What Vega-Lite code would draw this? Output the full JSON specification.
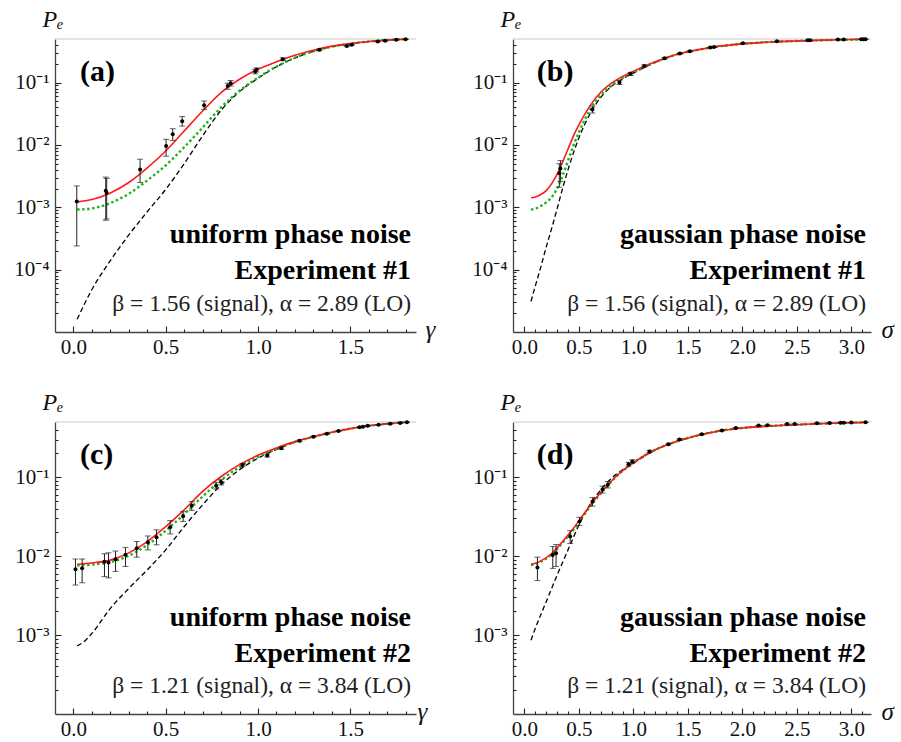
{
"$schema": "https://vega.github.io/schema/vega-lite/v6.json",
"padding": {"left": 13, "top": 7, "right": 2, "bottom": 2},
"spacing": {"row": 90, "column": 97},
"bounds": "flush",
"columns": 2,
"config": {
  "view": {"stroke": null},
  "font": "Liberation Serif",
  "axis": {"domainColor": "#444444", "domainWidth": 1.3, "tickColor": "#222222", "tickWidth": 1.1, "labelColor": "#111111", "labelFont": "Liberation Serif", "labelFontSize": 21, "titleFont": "Liberation Serif", "titleFontStyle": "italic", "titleFontWeight": "normal", "titleColor": "#111111", "grid": false, "labelOverlap": false, "labelFlush": false}
},
"datasets": {
  "notes": [
    {"panel": "a", "tag": "(a)", "noise": "uniform phase noise", "exp": "Experiment #1", "params": "β = 1.56 (signal), α = 2.89 (LO)"},
    {"panel": "b", "tag": "(b)", "noise": "gaussian phase noise", "exp": "Experiment #1", "params": "β = 1.56 (signal), α = 2.89 (LO)"},
    {"panel": "c", "tag": "(c)", "noise": "uniform phase noise", "exp": "Experiment #2", "params": "β = 1.21 (signal), α = 3.84 (LO)"},
    {"panel": "d", "tag": "(d)", "noise": "gaussian phase noise", "exp": "Experiment #2", "params": "β = 1.21 (signal), α = 3.84 (LO)"}
  ],
  "pts": [
    {"panel": "a", "x": 0.018, "p": 0.00124, "lo": 0.00024, "hi": 0.0022},
    {"panel": "a", "x": 0.175, "p": 0.00185, "lo": 0.00062, "hi": 0.00305},
    {"panel": "a", "x": 0.18, "p": 0.0017, "lo": 0.00065, "hi": 0.0029},
    {"panel": "a", "x": 0.361, "p": 0.00405, "lo": 0.0025, "hi": 0.0059},
    {"panel": "a", "x": 0.502, "p": 0.0096, "lo": 0.0066, "hi": 0.0123},
    {"panel": "a", "x": 0.538, "p": 0.0148, "lo": 0.0118, "hi": 0.0182},
    {"panel": "a", "x": 0.589, "p": 0.0239, "lo": 0.02, "hi": 0.0285},
    {"panel": "a", "x": 0.708, "p": 0.0433, "lo": 0.0373, "hi": 0.0507},
    {"panel": "a", "x": 0.836, "p": 0.088, "lo": 0.078, "hi": 0.098},
    {"panel": "a", "x": 0.852, "p": 0.098, "lo": 0.088, "hi": 0.108},
    {"panel": "a", "x": 0.985, "p": 0.15, "lo": 0.138, "hi": 0.163},
    {"panel": "a", "x": 0.992, "p": 0.16, "lo": 0.148, "hi": 0.172},
    {"panel": "a", "x": 1.134, "p": 0.237, "lo": 0.225, "hi": 0.249},
    {"panel": "a", "x": 1.333, "p": 0.335, "lo": 0.325, "hi": 0.345},
    {"panel": "a", "x": 1.481, "p": 0.385, "lo": 0.377, "hi": 0.393},
    {"panel": "a", "x": 1.508, "p": 0.405, "lo": 0.397, "hi": 0.413},
    {"panel": "a", "x": 1.649, "p": 0.455, "lo": 0.448, "hi": 0.462},
    {"panel": "a", "x": 1.689, "p": 0.468, "lo": 0.461, "hi": 0.475},
    {"panel": "a", "x": 1.749, "p": 0.485, "lo": 0.479, "hi": 0.491},
    {"panel": "a", "x": 1.8, "p": 0.495, "lo": 0.49, "hi": 0.5},
    {"panel": "b", "x": 0.32, "p": 0.0035, "lo": 0.0021, "hi": 0.005},
    {"panel": "b", "x": 0.33, "p": 0.0042, "lo": 0.0026, "hi": 0.0056},
    {"panel": "b", "x": 0.624, "p": 0.037, "lo": 0.0325, "hi": 0.042},
    {"panel": "b", "x": 0.872, "p": 0.1, "lo": 0.093, "hi": 0.107},
    {"panel": "b", "x": 0.973, "p": 0.138, "lo": 0.13, "hi": 0.146},
    {"panel": "b", "x": 1.099, "p": 0.185, "lo": 0.178, "hi": 0.192},
    {"panel": "b", "x": 1.286, "p": 0.245, "lo": 0.238, "hi": 0.252},
    {"panel": "b", "x": 1.426, "p": 0.292, "lo": 0.286, "hi": 0.298},
    {"panel": "b", "x": 1.518, "p": 0.318, "lo": 0.312, "hi": 0.324},
    {"panel": "b", "x": 1.705, "p": 0.365, "lo": 0.36, "hi": 0.37},
    {"panel": "b", "x": 1.74, "p": 0.372, "lo": 0.367, "hi": 0.377},
    {"panel": "b", "x": 2.005, "p": 0.428, "lo": 0.423, "hi": 0.433},
    {"panel": "b", "x": 2.317, "p": 0.46, "lo": 0.456, "hi": 0.464},
    {"panel": "b", "x": 2.6, "p": 0.478, "lo": 0.474, "hi": 0.482},
    {"panel": "b", "x": 2.62, "p": 0.479, "lo": 0.475, "hi": 0.483},
    {"panel": "b", "x": 2.877, "p": 0.49, "lo": 0.486, "hi": 0.494},
    {"panel": "b", "x": 2.93, "p": 0.491, "lo": 0.487, "hi": 0.495},
    {"panel": "b", "x": 3.09, "p": 0.495, "lo": 0.491, "hi": 0.499},
    {"panel": "b", "x": 3.11, "p": 0.496, "lo": 0.492, "hi": 0.5},
    {"panel": "b", "x": 3.13, "p": 0.496, "lo": 0.492, "hi": 0.5},
    {"panel": "c", "x": 0.011, "p": 0.0068, "lo": 0.0043, "hi": 0.0092},
    {"panel": "c", "x": 0.047, "p": 0.007, "lo": 0.0046, "hi": 0.0092},
    {"panel": "c", "x": 0.168, "p": 0.0085, "lo": 0.0055, "hi": 0.0107},
    {"panel": "c", "x": 0.19, "p": 0.0083, "lo": 0.0053, "hi": 0.011},
    {"panel": "c", "x": 0.228, "p": 0.0091, "lo": 0.0064, "hi": 0.0116},
    {"panel": "c", "x": 0.282, "p": 0.0104, "lo": 0.0074, "hi": 0.0129},
    {"panel": "c", "x": 0.343, "p": 0.0126, "lo": 0.0097, "hi": 0.0153},
    {"panel": "c", "x": 0.403, "p": 0.015, "lo": 0.012, "hi": 0.018},
    {"panel": "c", "x": 0.45, "p": 0.0174, "lo": 0.0139, "hi": 0.0215},
    {"panel": "c", "x": 0.524, "p": 0.0232, "lo": 0.0191, "hi": 0.0282},
    {"panel": "c", "x": 0.594, "p": 0.032, "lo": 0.0275, "hi": 0.0365},
    {"panel": "c", "x": 0.641, "p": 0.0433, "lo": 0.038, "hi": 0.049},
    {"panel": "c", "x": 0.773, "p": 0.078, "lo": 0.071, "hi": 0.086},
    {"panel": "c", "x": 0.8, "p": 0.087, "lo": 0.08, "hi": 0.094},
    {"panel": "c", "x": 0.916, "p": 0.143, "lo": 0.135, "hi": 0.15},
    {"panel": "c", "x": 1.05, "p": 0.188, "lo": 0.18, "hi": 0.196},
    {"panel": "c", "x": 1.126, "p": 0.233, "lo": 0.225, "hi": 0.241},
    {"panel": "c", "x": 1.225, "p": 0.289, "lo": 0.282, "hi": 0.296},
    {"panel": "c", "x": 1.3, "p": 0.325, "lo": 0.318, "hi": 0.332},
    {"panel": "c", "x": 1.373, "p": 0.355, "lo": 0.349, "hi": 0.361},
    {"panel": "c", "x": 1.436, "p": 0.384, "lo": 0.378, "hi": 0.39},
    {"panel": "c", "x": 1.55, "p": 0.43, "lo": 0.425, "hi": 0.435},
    {"panel": "c", "x": 1.568, "p": 0.435, "lo": 0.43, "hi": 0.44},
    {"panel": "c", "x": 1.594, "p": 0.448, "lo": 0.443, "hi": 0.453},
    {"panel": "c", "x": 1.653, "p": 0.46, "lo": 0.455, "hi": 0.465},
    {"panel": "c", "x": 1.716, "p": 0.475, "lo": 0.471, "hi": 0.479},
    {"panel": "c", "x": 1.77, "p": 0.487, "lo": 0.483, "hi": 0.491},
    {"panel": "c", "x": 1.807, "p": 0.497, "lo": 0.493, "hi": 0.5},
    {"panel": "d", "x": 0.119, "p": 0.0072, "lo": 0.0049, "hi": 0.0097},
    {"panel": "d", "x": 0.26, "p": 0.0103, "lo": 0.007, "hi": 0.0132},
    {"panel": "d", "x": 0.29, "p": 0.0109, "lo": 0.0074, "hi": 0.014},
    {"panel": "d", "x": 0.42, "p": 0.0177, "lo": 0.0145, "hi": 0.021},
    {"panel": "d", "x": 0.505, "p": 0.0275, "lo": 0.0245, "hi": 0.031},
    {"panel": "d", "x": 0.624, "p": 0.049, "lo": 0.043, "hi": 0.055},
    {"panel": "d", "x": 0.716, "p": 0.0698, "lo": 0.063, "hi": 0.077},
    {"panel": "d", "x": 0.765, "p": 0.08, "lo": 0.073, "hi": 0.088},
    {"panel": "d", "x": 0.955, "p": 0.146, "lo": 0.138, "hi": 0.154},
    {"panel": "d", "x": 0.99, "p": 0.158, "lo": 0.15, "hi": 0.166},
    {"panel": "d", "x": 1.148, "p": 0.212, "lo": 0.205, "hi": 0.219},
    {"panel": "d", "x": 1.322, "p": 0.262, "lo": 0.256, "hi": 0.268},
    {"panel": "d", "x": 1.423, "p": 0.3, "lo": 0.294, "hi": 0.306},
    {"panel": "d", "x": 1.628, "p": 0.35, "lo": 0.345, "hi": 0.355},
    {"panel": "d", "x": 1.812, "p": 0.39, "lo": 0.385, "hi": 0.395},
    {"panel": "d", "x": 1.94, "p": 0.42, "lo": 0.415, "hi": 0.425},
    {"panel": "d", "x": 2.149, "p": 0.45, "lo": 0.446, "hi": 0.454},
    {"panel": "d", "x": 2.23, "p": 0.455, "lo": 0.451, "hi": 0.459},
    {"panel": "d", "x": 2.41, "p": 0.47, "lo": 0.466, "hi": 0.474},
    {"panel": "d", "x": 2.48, "p": 0.472, "lo": 0.468, "hi": 0.476},
    {"panel": "d", "x": 2.684, "p": 0.482, "lo": 0.478, "hi": 0.486},
    {"panel": "d", "x": 2.8, "p": 0.486, "lo": 0.482, "hi": 0.49},
    {"panel": "d", "x": 2.9, "p": 0.49, "lo": 0.486, "hi": 0.494},
    {"panel": "d", "x": 2.93, "p": 0.49, "lo": 0.486, "hi": 0.494},
    {"panel": "d", "x": 3.0, "p": 0.492, "lo": 0.488, "hi": 0.496},
    {"panel": "d", "x": 3.13, "p": 0.495, "lo": 0.491, "hi": 0.499}
  ],
  "curves": [
    {"panel": "a", "s": "fit", "x": 0.02, "p": 0.00122}, {"panel": "a", "s": "fit", "x": 0.1, "p": 0.00133}, {"panel": "a", "s": "fit", "x": 0.2, "p": 0.0017}, {"panel": "a", "s": "fit", "x": 0.3, "p": 0.0025}, {"panel": "a", "s": "fit", "x": 0.4, "p": 0.0043}, {"panel": "a", "s": "fit", "x": 0.5, "p": 0.008}, {"panel": "a", "s": "fit", "x": 0.6, "p": 0.0167}, {"panel": "a", "s": "fit", "x": 0.7, "p": 0.035}, {"panel": "a", "s": "fit", "x": 0.8, "p": 0.069}, {"panel": "a", "s": "fit", "x": 0.9, "p": 0.113}, {"panel": "a", "s": "fit", "x": 1.0, "p": 0.164}, {"panel": "a", "s": "fit", "x": 1.1, "p": 0.215}, {"panel": "a", "s": "fit", "x": 1.2, "p": 0.275}, {"panel": "a", "s": "fit", "x": 1.3, "p": 0.331}, {"panel": "a", "s": "fit", "x": 1.4, "p": 0.384}, {"panel": "a", "s": "fit", "x": 1.5, "p": 0.424}, {"panel": "a", "s": "fit", "x": 1.6, "p": 0.457}, {"panel": "a", "s": "fit", "x": 1.7, "p": 0.482}, {"panel": "a", "s": "fit", "x": 1.8, "p": 0.497},
    {"panel": "a", "s": "model", "x": 0.02, "p": 0.00092}, {"panel": "a", "s": "model", "x": 0.1, "p": 0.00096}, {"panel": "a", "s": "model", "x": 0.2, "p": 0.00117}, {"panel": "a", "s": "model", "x": 0.3, "p": 0.00165}, {"panel": "a", "s": "model", "x": 0.4, "p": 0.0027}, {"panel": "a", "s": "model", "x": 0.5, "p": 0.0047}, {"panel": "a", "s": "model", "x": 0.6, "p": 0.0092}, {"panel": "a", "s": "model", "x": 0.7, "p": 0.019}, {"panel": "a", "s": "model", "x": 0.8, "p": 0.04}, {"panel": "a", "s": "model", "x": 0.9, "p": 0.074}, {"panel": "a", "s": "model", "x": 1.0, "p": 0.12}, {"panel": "a", "s": "model", "x": 1.1, "p": 0.18}, {"panel": "a", "s": "model", "x": 1.2, "p": 0.25}, {"panel": "a", "s": "model", "x": 1.3, "p": 0.318}, {"panel": "a", "s": "model", "x": 1.4, "p": 0.377}, {"panel": "a", "s": "model", "x": 1.5, "p": 0.42}, {"panel": "a", "s": "model", "x": 1.6, "p": 0.455}, {"panel": "a", "s": "model", "x": 1.7, "p": 0.481}, {"panel": "a", "s": "model", "x": 1.8, "p": 0.497},
    {"panel": "a", "s": "ideal", "x": 0.02, "p": 0.000016}, {"panel": "a", "s": "ideal", "x": 0.1, "p": 0.000048}, {"panel": "a", "s": "ideal", "x": 0.2, "p": 0.00014}, {"panel": "a", "s": "ideal", "x": 0.3, "p": 0.00036}, {"panel": "a", "s": "ideal", "x": 0.4, "p": 0.00085}, {"panel": "a", "s": "ideal", "x": 0.5, "p": 0.00194}, {"panel": "a", "s": "ideal", "x": 0.6, "p": 0.005}, {"panel": "a", "s": "ideal", "x": 0.7, "p": 0.014}, {"panel": "a", "s": "ideal", "x": 0.8, "p": 0.036}, {"panel": "a", "s": "ideal", "x": 0.9, "p": 0.072}, {"panel": "a", "s": "ideal", "x": 1.0, "p": 0.117}, {"panel": "a", "s": "ideal", "x": 1.1, "p": 0.18}, {"panel": "a", "s": "ideal", "x": 1.2, "p": 0.248}, {"panel": "a", "s": "ideal", "x": 1.3, "p": 0.316}, {"panel": "a", "s": "ideal", "x": 1.4, "p": 0.376}, {"panel": "a", "s": "ideal", "x": 1.5, "p": 0.42}, {"panel": "a", "s": "ideal", "x": 1.6, "p": 0.455}, {"panel": "a", "s": "ideal", "x": 1.7, "p": 0.481}, {"panel": "a", "s": "ideal", "x": 1.8, "p": 0.497},
    {"panel": "b", "s": "fit", "x": 0.06, "p": 0.00142}, {"panel": "b", "s": "fit", "x": 0.1, "p": 0.00146}, {"panel": "b", "s": "fit", "x": 0.15, "p": 0.0016}, {"panel": "b", "s": "fit", "x": 0.2, "p": 0.00185}, {"panel": "b", "s": "fit", "x": 0.25, "p": 0.0024}, {"panel": "b", "s": "fit", "x": 0.3, "p": 0.0034}, {"panel": "b", "s": "fit", "x": 0.35, "p": 0.0053}, {"panel": "b", "s": "fit", "x": 0.4, "p": 0.0086}, {"panel": "b", "s": "fit", "x": 0.45, "p": 0.014}, {"panel": "b", "s": "fit", "x": 0.5, "p": 0.021}, {"panel": "b", "s": "fit", "x": 0.6, "p": 0.042}, {"panel": "b", "s": "fit", "x": 0.7, "p": 0.07}, {"panel": "b", "s": "fit", "x": 0.8, "p": 0.098}, {"panel": "b", "s": "fit", "x": 0.9, "p": 0.125}, {"panel": "b", "s": "fit", "x": 1.0, "p": 0.152}, {"panel": "b", "s": "fit", "x": 1.2, "p": 0.215}, {"panel": "b", "s": "fit", "x": 1.4, "p": 0.285}, {"panel": "b", "s": "fit", "x": 1.6, "p": 0.338}, {"panel": "b", "s": "fit", "x": 1.8, "p": 0.385}, {"panel": "b", "s": "fit", "x": 2.0, "p": 0.418}, {"panel": "b", "s": "fit", "x": 2.25, "p": 0.447}, {"panel": "b", "s": "fit", "x": 2.5, "p": 0.465}, {"panel": "b", "s": "fit", "x": 2.75, "p": 0.479}, {"panel": "b", "s": "fit", "x": 3.0, "p": 0.49}, {"panel": "b", "s": "fit", "x": 3.14, "p": 0.495},
    {"panel": "b", "s": "model", "x": 0.06, "p": 0.00092}, {"panel": "b", "s": "model", "x": 0.1, "p": 0.00095}, {"panel": "b", "s": "model", "x": 0.15, "p": 0.00105}, {"panel": "b", "s": "model", "x": 0.2, "p": 0.0012}, {"panel": "b", "s": "model", "x": 0.25, "p": 0.00145}, {"panel": "b", "s": "model", "x": 0.3, "p": 0.002}, {"panel": "b", "s": "model", "x": 0.35, "p": 0.0032}, {"panel": "b", "s": "model", "x": 0.4, "p": 0.0056}, {"panel": "b", "s": "model", "x": 0.45, "p": 0.0098}, {"panel": "b", "s": "model", "x": 0.5, "p": 0.016}, {"panel": "b", "s": "model", "x": 0.6, "p": 0.036}, {"panel": "b", "s": "model", "x": 0.7, "p": 0.063}, {"panel": "b", "s": "model", "x": 0.8, "p": 0.09}, {"panel": "b", "s": "model", "x": 0.9, "p": 0.118}, {"panel": "b", "s": "model", "x": 1.0, "p": 0.145}, {"panel": "b", "s": "model", "x": 1.2, "p": 0.212}, {"panel": "b", "s": "model", "x": 1.4, "p": 0.283}, {"panel": "b", "s": "model", "x": 1.6, "p": 0.337}, {"panel": "b", "s": "model", "x": 1.8, "p": 0.384}, {"panel": "b", "s": "model", "x": 2.0, "p": 0.418}, {"panel": "b", "s": "model", "x": 2.25, "p": 0.447}, {"panel": "b", "s": "model", "x": 2.5, "p": 0.465}, {"panel": "b", "s": "model", "x": 2.75, "p": 0.479}, {"panel": "b", "s": "model", "x": 3.0, "p": 0.49}, {"panel": "b", "s": "model", "x": 3.14, "p": 0.495},
    {"panel": "b", "s": "ideal", "x": 0.06, "p": 0.000031}, {"panel": "b", "s": "ideal", "x": 0.1, "p": 0.000055}, {"panel": "b", "s": "ideal", "x": 0.15, "p": 0.00011}, {"panel": "b", "s": "ideal", "x": 0.2, "p": 0.00023}, {"panel": "b", "s": "ideal", "x": 0.25, "p": 0.00046}, {"panel": "b", "s": "ideal", "x": 0.3, "p": 0.00095}, {"panel": "b", "s": "ideal", "x": 0.35, "p": 0.002}, {"panel": "b", "s": "ideal", "x": 0.4, "p": 0.004}, {"panel": "b", "s": "ideal", "x": 0.45, "p": 0.0075}, {"panel": "b", "s": "ideal", "x": 0.5, "p": 0.013}, {"panel": "b", "s": "ideal", "x": 0.6, "p": 0.031}, {"panel": "b", "s": "ideal", "x": 0.7, "p": 0.058}, {"panel": "b", "s": "ideal", "x": 0.8, "p": 0.087}, {"panel": "b", "s": "ideal", "x": 0.9, "p": 0.115}, {"panel": "b", "s": "ideal", "x": 1.0, "p": 0.142}, {"panel": "b", "s": "ideal", "x": 1.2, "p": 0.211}, {"panel": "b", "s": "ideal", "x": 1.4, "p": 0.283}, {"panel": "b", "s": "ideal", "x": 1.6, "p": 0.337}, {"panel": "b", "s": "ideal", "x": 1.8, "p": 0.384}, {"panel": "b", "s": "ideal", "x": 2.0, "p": 0.418}, {"panel": "b", "s": "ideal", "x": 2.25, "p": 0.447}, {"panel": "b", "s": "ideal", "x": 2.5, "p": 0.465}, {"panel": "b", "s": "ideal", "x": 2.75, "p": 0.479}, {"panel": "b", "s": "ideal", "x": 3.0, "p": 0.49}, {"panel": "b", "s": "ideal", "x": 3.14, "p": 0.495},
    {"panel": "c", "s": "fit", "x": 0.02, "p": 0.0079}, {"panel": "c", "s": "fit", "x": 0.1, "p": 0.0082}, {"panel": "c", "s": "fit", "x": 0.2, "p": 0.0089}, {"panel": "c", "s": "fit", "x": 0.3, "p": 0.011}, {"panel": "c", "s": "fit", "x": 0.4, "p": 0.0153}, {"panel": "c", "s": "fit", "x": 0.5, "p": 0.0237}, {"panel": "c", "s": "fit", "x": 0.6, "p": 0.0385}, {"panel": "c", "s": "fit", "x": 0.7, "p": 0.066}, {"panel": "c", "s": "fit", "x": 0.8, "p": 0.102}, {"panel": "c", "s": "fit", "x": 0.9, "p": 0.144}, {"panel": "c", "s": "fit", "x": 1.0, "p": 0.19}, {"panel": "c", "s": "fit", "x": 1.1, "p": 0.234}, {"panel": "c", "s": "fit", "x": 1.2, "p": 0.282}, {"panel": "c", "s": "fit", "x": 1.3, "p": 0.326}, {"panel": "c", "s": "fit", "x": 1.4, "p": 0.37}, {"panel": "c", "s": "fit", "x": 1.5, "p": 0.412}, {"panel": "c", "s": "fit", "x": 1.6, "p": 0.448}, {"panel": "c", "s": "fit", "x": 1.7, "p": 0.475}, {"panel": "c", "s": "fit", "x": 1.8, "p": 0.497},
    {"panel": "c", "s": "model", "x": 0.02, "p": 0.0076}, {"panel": "c", "s": "model", "x": 0.1, "p": 0.0078}, {"panel": "c", "s": "model", "x": 0.2, "p": 0.0084}, {"panel": "c", "s": "model", "x": 0.3, "p": 0.0101}, {"panel": "c", "s": "model", "x": 0.4, "p": 0.0139}, {"panel": "c", "s": "model", "x": 0.5, "p": 0.021}, {"panel": "c", "s": "model", "x": 0.6, "p": 0.034}, {"panel": "c", "s": "model", "x": 0.7, "p": 0.057}, {"panel": "c", "s": "model", "x": 0.8, "p": 0.092}, {"panel": "c", "s": "model", "x": 0.9, "p": 0.134}, {"panel": "c", "s": "model", "x": 1.0, "p": 0.181}, {"panel": "c", "s": "model", "x": 1.1, "p": 0.229}, {"panel": "c", "s": "model", "x": 1.2, "p": 0.28}, {"panel": "c", "s": "model", "x": 1.3, "p": 0.325}, {"panel": "c", "s": "model", "x": 1.4, "p": 0.37}, {"panel": "c", "s": "model", "x": 1.5, "p": 0.412}, {"panel": "c", "s": "model", "x": 1.6, "p": 0.448}, {"panel": "c", "s": "model", "x": 1.7, "p": 0.475}, {"panel": "c", "s": "model", "x": 1.8, "p": 0.497},
    {"panel": "c", "s": "ideal", "x": 0.02, "p": 0.00073}, {"panel": "c", "s": "ideal", "x": 0.05, "p": 0.0008}, {"panel": "c", "s": "ideal", "x": 0.1, "p": 0.00105}, {"panel": "c", "s": "ideal", "x": 0.2, "p": 0.00218}, {"panel": "c", "s": "ideal", "x": 0.3, "p": 0.0039}, {"panel": "c", "s": "ideal", "x": 0.4, "p": 0.0067}, {"panel": "c", "s": "ideal", "x": 0.5, "p": 0.012}, {"panel": "c", "s": "ideal", "x": 0.6, "p": 0.0237}, {"panel": "c", "s": "ideal", "x": 0.7, "p": 0.0446}, {"panel": "c", "s": "ideal", "x": 0.8, "p": 0.08}, {"panel": "c", "s": "ideal", "x": 0.9, "p": 0.124}, {"panel": "c", "s": "ideal", "x": 1.0, "p": 0.174}, {"panel": "c", "s": "ideal", "x": 1.1, "p": 0.225}, {"panel": "c", "s": "ideal", "x": 1.2, "p": 0.278}, {"panel": "c", "s": "ideal", "x": 1.3, "p": 0.324}, {"panel": "c", "s": "ideal", "x": 1.4, "p": 0.37}, {"panel": "c", "s": "ideal", "x": 1.5, "p": 0.412}, {"panel": "c", "s": "ideal", "x": 1.6, "p": 0.448}, {"panel": "c", "s": "ideal", "x": 1.7, "p": 0.475}, {"panel": "c", "s": "ideal", "x": 1.8, "p": 0.497},
    {"panel": "d", "s": "fit", "x": 0.06, "p": 0.0079}, {"panel": "d", "s": "fit", "x": 0.1, "p": 0.0081}, {"panel": "d", "s": "fit", "x": 0.15, "p": 0.0087}, {"panel": "d", "s": "fit", "x": 0.25, "p": 0.0108}, {"panel": "d", "s": "fit", "x": 0.35, "p": 0.0153}, {"panel": "d", "s": "fit", "x": 0.45, "p": 0.0225}, {"panel": "d", "s": "fit", "x": 0.55, "p": 0.035}, {"panel": "d", "s": "fit", "x": 0.65, "p": 0.053}, {"panel": "d", "s": "fit", "x": 0.75, "p": 0.076}, {"panel": "d", "s": "fit", "x": 0.85, "p": 0.105}, {"panel": "d", "s": "fit", "x": 1.0, "p": 0.153}, {"panel": "d", "s": "fit", "x": 1.2, "p": 0.222}, {"panel": "d", "s": "fit", "x": 1.4, "p": 0.285}, {"panel": "d", "s": "fit", "x": 1.6, "p": 0.34}, {"panel": "d", "s": "fit", "x": 1.8, "p": 0.388}, {"panel": "d", "s": "fit", "x": 2.0, "p": 0.42}, {"panel": "d", "s": "fit", "x": 2.25, "p": 0.445}, {"panel": "d", "s": "fit", "x": 2.5, "p": 0.462}, {"panel": "d", "s": "fit", "x": 2.75, "p": 0.478}, {"panel": "d", "s": "fit", "x": 3.0, "p": 0.49}, {"panel": "d", "s": "fit", "x": 3.14, "p": 0.495},
    {"panel": "d", "s": "model", "x": 0.06, "p": 0.0077}, {"panel": "d", "s": "model", "x": 0.1, "p": 0.0079}, {"panel": "d", "s": "model", "x": 0.15, "p": 0.0085}, {"panel": "d", "s": "model", "x": 0.25, "p": 0.0105}, {"panel": "d", "s": "model", "x": 0.35, "p": 0.0148}, {"panel": "d", "s": "model", "x": 0.45, "p": 0.0216}, {"panel": "d", "s": "model", "x": 0.55, "p": 0.0338}, {"panel": "d", "s": "model", "x": 0.65, "p": 0.0515}, {"panel": "d", "s": "model", "x": 0.75, "p": 0.0745}, {"panel": "d", "s": "model", "x": 0.85, "p": 0.104}, {"panel": "d", "s": "model", "x": 1.0, "p": 0.152}, {"panel": "d", "s": "model", "x": 1.2, "p": 0.222}, {"panel": "d", "s": "model", "x": 1.4, "p": 0.285}, {"panel": "d", "s": "model", "x": 1.6, "p": 0.34}, {"panel": "d", "s": "model", "x": 1.8, "p": 0.388}, {"panel": "d", "s": "model", "x": 2.0, "p": 0.42}, {"panel": "d", "s": "model", "x": 2.25, "p": 0.445}, {"panel": "d", "s": "model", "x": 2.5, "p": 0.462}, {"panel": "d", "s": "model", "x": 2.75, "p": 0.478}, {"panel": "d", "s": "model", "x": 3.0, "p": 0.49}, {"panel": "d", "s": "model", "x": 3.14, "p": 0.495},
    {"panel": "d", "s": "ideal", "x": 0.06, "p": 0.00086}, {"panel": "d", "s": "ideal", "x": 0.1, "p": 0.00122}, {"panel": "d", "s": "ideal", "x": 0.2, "p": 0.00265}, {"panel": "d", "s": "ideal", "x": 0.3, "p": 0.00576}, {"panel": "d", "s": "ideal", "x": 0.4, "p": 0.012}, {"panel": "d", "s": "ideal", "x": 0.5, "p": 0.0248}, {"panel": "d", "s": "ideal", "x": 0.6, "p": 0.0446}, {"panel": "d", "s": "ideal", "x": 0.7, "p": 0.069}, {"panel": "d", "s": "ideal", "x": 0.8, "p": 0.097}, {"panel": "d", "s": "ideal", "x": 1.0, "p": 0.15}, {"panel": "d", "s": "ideal", "x": 1.2, "p": 0.221}, {"panel": "d", "s": "ideal", "x": 1.4, "p": 0.285}, {"panel": "d", "s": "ideal", "x": 1.6, "p": 0.34}, {"panel": "d", "s": "ideal", "x": 1.8, "p": 0.388}, {"panel": "d", "s": "ideal", "x": 2.0, "p": 0.42}, {"panel": "d", "s": "ideal", "x": 2.25, "p": 0.445}, {"panel": "d", "s": "ideal", "x": 2.5, "p": 0.462}, {"panel": "d", "s": "ideal", "x": 2.75, "p": 0.478}, {"panel": "d", "s": "ideal", "x": 3.0, "p": 0.49}, {"panel": "d", "s": "ideal", "x": 3.14, "p": 0.495}
  ]
},
"concat": [
  {"width": 361, "height": 293,
   "resolve": {"axis": {"x": "independent", "y": "independent"}},
   "layer": [
    {"data": {"name": "notes"}, "transform": [{"filter": "datum.panel=='a'"}], "mark": {"type": "rule", "color": "#cccccc", "strokeWidth": 1.2}, "encoding": {"y": {"datum": 0.5, "type": "quantitative", "axis": null}}},
    {"data": {"name": "curves"}, "transform": [{"filter": "datum.panel=='a' && datum.s=='ideal'"}], "mark": {"type": "line", "color": "#000000", "strokeWidth": 1.3, "strokeDash": [5, 3], "interpolate": "monotone"},
     "encoding": {
      "x": {"field": "x", "type": "quantitative", "title": "γ", "scale": {"domain": [-0.1, 1.856], "nice": false, "zero": false},
            "axis": {"orient": "bottom", "values": [0, 0.5, 1, 1.5], "format": ".1f", "tickSize": -6, "labelPadding": 10, "titleAngle": 0, "titleAlign": "left", "titleBaseline": "alphabetic", "titleX": 370, "titleY": 5, "titleFontSize": 25}},
      "y": {"field": "p", "type": "quantitative", "title": "Pₑ", "scale": {"type": "log", "domain": [0.00001, 0.5], "nice": false},
            "axis": {"orient": "left", "values": [0.0001, 0.001, 0.01, 0.1], "labelExpr": "datum.value == 0.1 ? '10⁻¹' : datum.value == 0.01 ? '10⁻²' : datum.value == 0.001 ? '10⁻³' : '10⁻⁴'", "tickSize": -6, "labelPadding": 12, "titleAngle": 0, "titleAlign": "left", "titleBaseline": "alphabetic", "titleX": -13, "titleY": -13, "titleFontSize": 24}}}},
    {"data": {"name": "curves"}, "transform": [{"filter": "datum.panel=='a' && datum.s=='model'"}], "mark": {"type": "line", "color": "#1db51d", "strokeWidth": 2.4, "strokeDash": [2.5, 2.5], "interpolate": "monotone"},
     "encoding": {"x": {"field": "x", "type": "quantitative", "title": null, "axis": {"orient": "bottom", "values": [0.1, 0.2, 0.3, 0.4, 0.6, 0.7, 0.8, 0.9, 1.1, 1.2, 1.3, 1.4, 1.6, 1.7, 1.8], "labels": false, "domain": false, "tickSize": -3, "title": null}},
                  "y": {"field": "p", "type": "quantitative", "title": null, "axis": {"orient": "left", "values": [0.00002, 0.00003, 0.00004, 0.00005, 0.00006, 0.00007, 0.00008, 0.00009, 0.0002, 0.0003, 0.0004, 0.0005, 0.0006, 0.0007, 0.0008, 0.0009, 0.002, 0.003, 0.004, 0.005, 0.006, 0.007, 0.008, 0.009, 0.02, 0.03, 0.04, 0.05, 0.06, 0.07, 0.08, 0.09, 0.2, 0.3, 0.4], "labels": false, "domain": false, "tickSize": -3, "title": null}}}},
    {"data": {"name": "curves"}, "transform": [{"filter": "datum.panel=='a' && datum.s=='fit'"}], "mark": {"type": "line", "color": "#ff1a1a", "strokeWidth": 1.6, "interpolate": "monotone"},
     "encoding": {"x": {"field": "x", "type": "quantitative", "axis": null}, "y": {"field": "p", "type": "quantitative", "axis": null}}},
    {"data": {"name": "pts"}, "transform": [{"filter": "datum.panel=='a'"}], "mark": {"type": "errorbar", "color": "#222222", "ticks": {"size": 6}},
     "encoding": {"x": {"field": "x", "type": "quantitative", "axis": null}, "y": {"field": "lo", "type": "quantitative", "axis": null}, "y2": {"field": "hi"}}},
    {"data": {"name": "pts"}, "transform": [{"filter": "datum.panel=='a'"}], "mark": {"type": "point", "filled": true, "color": "#000000", "size": 16, "opacity": 1},
     "encoding": {"x": {"field": "x", "type": "quantitative", "axis": null}, "y": {"field": "p", "type": "quantitative", "axis": null}}},
    {"data": {"name": "notes"}, "transform": [{"filter": "datum.panel=='a'"}], "mark": {"type": "text", "align": "left", "baseline": "alphabetic", "fontSize": 30, "fontWeight": "bold", "color": "#000000"},
     "encoding": {"x": {"datum": 0.035, "type": "quantitative", "axis": null}, "y": {"datum": 0.105, "type": "quantitative", "axis": null}, "text": {"field": "tag"}}},
    {"data": {"name": "notes"}, "transform": [{"filter": "datum.panel=='a'"}], "mark": {"type": "text", "align": "right", "baseline": "alphabetic", "fontSize": 28, "fontWeight": "bold", "color": "#000000"},
     "encoding": {"x": {"datum": 1.829, "type": "quantitative", "axis": null}, "y": {"datum": 0.00027, "type": "quantitative", "axis": null}, "text": {"field": "noise"}}},
    {"data": {"name": "notes"}, "transform": [{"filter": "datum.panel=='a'"}], "mark": {"type": "text", "align": "right", "baseline": "alphabetic", "fontSize": 28, "fontWeight": "bold", "color": "#000000"},
     "encoding": {"x": {"datum": 1.829, "type": "quantitative", "axis": null}, "y": {"datum": 0.000072, "type": "quantitative", "axis": null}, "text": {"field": "exp"}}},
    {"data": {"name": "notes"}, "transform": [{"filter": "datum.panel=='a'"}], "mark": {"type": "text", "align": "right", "baseline": "alphabetic", "fontSize": 23.5, "color": "#222222"},
     "encoding": {"x": {"datum": 1.829, "type": "quantitative", "axis": null}, "y": {"datum": 0.000022, "type": "quantitative", "axis": null}, "text": {"field": "params"}}}
   ]},
  {"width": 358, "height": 293,
   "resolve": {"axis": {"x": "independent", "y": "independent"}},
   "layer": [
    {"data": {"name": "notes"}, "transform": [{"filter": "datum.panel=='b'"}], "mark": {"type": "rule", "color": "#cccccc", "strokeWidth": 1.2}, "encoding": {"y": {"datum": 0.5, "type": "quantitative", "axis": null}}},
    {"data": {"name": "curves"}, "transform": [{"filter": "datum.panel=='b' && datum.s=='ideal'"}], "mark": {"type": "line", "color": "#000000", "strokeWidth": 1.3, "strokeDash": [5, 3], "interpolate": "monotone"},
     "encoding": {
      "x": {"field": "x", "type": "quantitative", "title": "σ", "scale": {"domain": [-0.105, 3.18], "nice": false, "zero": false},
            "axis": {"orient": "bottom", "values": [0, 0.5, 1, 1.5, 2, 2.5, 3], "format": ".1f", "tickSize": -6, "labelPadding": 10, "titleAngle": 0, "titleAlign": "left", "titleBaseline": "alphabetic", "titleX": 368, "titleY": 5, "titleFontSize": 25}},
      "y": {"field": "p", "type": "quantitative", "title": "Pₑ", "scale": {"type": "log", "domain": [0.00001, 0.5], "nice": false},
            "axis": {"orient": "left", "values": [0.0001, 0.001, 0.01, 0.1], "labelExpr": "datum.value == 0.1 ? '10⁻¹' : datum.value == 0.01 ? '10⁻²' : datum.value == 0.001 ? '10⁻³' : '10⁻⁴'", "tickSize": -6, "labelPadding": 12, "titleAngle": 0, "titleAlign": "left", "titleBaseline": "alphabetic", "titleX": -13, "titleY": -13, "titleFontSize": 24}}}},
    {"data": {"name": "curves"}, "transform": [{"filter": "datum.panel=='b' && datum.s=='model'"}], "mark": {"type": "line", "color": "#1db51d", "strokeWidth": 2.4, "strokeDash": [2.5, 2.5], "interpolate": "monotone"},
     "encoding": {"x": {"field": "x", "type": "quantitative", "title": null, "axis": {"orient": "bottom", "values": [0.1, 0.2, 0.3, 0.4, 0.6, 0.7, 0.8, 0.9, 1.1, 1.2, 1.3, 1.4, 1.6, 1.7, 1.8, 1.9, 2.1, 2.2, 2.3, 2.4, 2.6, 2.7, 2.8, 2.9, 3.1], "labels": false, "domain": false, "tickSize": -3, "title": null}},
                  "y": {"field": "p", "type": "quantitative", "title": null, "axis": {"orient": "left", "values": [0.00002, 0.00003, 0.00004, 0.00005, 0.00006, 0.00007, 0.00008, 0.00009, 0.0002, 0.0003, 0.0004, 0.0005, 0.0006, 0.0007, 0.0008, 0.0009, 0.002, 0.003, 0.004, 0.005, 0.006, 0.007, 0.008, 0.009, 0.02, 0.03, 0.04, 0.05, 0.06, 0.07, 0.08, 0.09, 0.2, 0.3, 0.4], "labels": false, "domain": false, "tickSize": -3, "title": null}}}},
    {"data": {"name": "curves"}, "transform": [{"filter": "datum.panel=='b' && datum.s=='fit'"}], "mark": {"type": "line", "color": "#ff1a1a", "strokeWidth": 1.6, "interpolate": "monotone"},
     "encoding": {"x": {"field": "x", "type": "quantitative", "axis": null}, "y": {"field": "p", "type": "quantitative", "axis": null}}},
    {"data": {"name": "pts"}, "transform": [{"filter": "datum.panel=='b'"}], "mark": {"type": "errorbar", "color": "#222222", "ticks": {"size": 6}},
     "encoding": {"x": {"field": "x", "type": "quantitative", "axis": null}, "y": {"field": "lo", "type": "quantitative", "axis": null}, "y2": {"field": "hi"}}},
    {"data": {"name": "pts"}, "transform": [{"filter": "datum.panel=='b'"}], "mark": {"type": "point", "filled": true, "color": "#000000", "size": 16, "opacity": 1},
     "encoding": {"x": {"field": "x", "type": "quantitative", "axis": null}, "y": {"field": "p", "type": "quantitative", "axis": null}}},
    {"data": {"name": "notes"}, "transform": [{"filter": "datum.panel=='b'"}], "mark": {"type": "text", "align": "left", "baseline": "alphabetic", "fontSize": 30, "fontWeight": "bold", "color": "#000000"},
     "encoding": {"x": {"datum": 0.113, "type": "quantitative", "axis": null}, "y": {"datum": 0.105, "type": "quantitative", "axis": null}, "text": {"field": "tag"}}},
    {"data": {"name": "notes"}, "transform": [{"filter": "datum.panel=='b'"}], "mark": {"type": "text", "align": "right", "baseline": "alphabetic", "fontSize": 28, "fontWeight": "bold", "color": "#000000"},
     "encoding": {"x": {"datum": 3.134, "type": "quantitative", "axis": null}, "y": {"datum": 0.00027, "type": "quantitative", "axis": null}, "text": {"field": "noise"}}},
    {"data": {"name": "notes"}, "transform": [{"filter": "datum.panel=='b'"}], "mark": {"type": "text", "align": "right", "baseline": "alphabetic", "fontSize": 28, "fontWeight": "bold", "color": "#000000"},
     "encoding": {"x": {"datum": 3.134, "type": "quantitative", "axis": null}, "y": {"datum": 0.000072, "type": "quantitative", "axis": null}, "text": {"field": "exp"}}},
    {"data": {"name": "notes"}, "transform": [{"filter": "datum.panel=='b'"}], "mark": {"type": "text", "align": "right", "baseline": "alphabetic", "fontSize": 23.5, "color": "#222222"},
     "encoding": {"x": {"datum": 3.134, "type": "quantitative", "axis": null}, "y": {"datum": 0.000022, "type": "quantitative", "axis": null}, "text": {"field": "params"}}}
   ]},
  {"width": 361, "height": 292,
   "resolve": {"axis": {"x": "independent", "y": "independent"}},
   "layer": [
    {"data": {"name": "notes"}, "transform": [{"filter": "datum.panel=='c'"}], "mark": {"type": "rule", "color": "#cccccc", "strokeWidth": 1.2}, "encoding": {"y": {"datum": 0.5, "type": "quantitative", "axis": null}}},
    {"data": {"name": "curves"}, "transform": [{"filter": "datum.panel=='c' && datum.s=='ideal'"}], "mark": {"type": "line", "color": "#000000", "strokeWidth": 1.3, "strokeDash": [5, 3], "interpolate": "monotone"},
     "encoding": {
      "x": {"field": "x", "type": "quantitative", "title": "γ", "scale": {"domain": [-0.1, 1.856], "nice": false, "zero": false},
            "axis": {"orient": "bottom", "values": [0, 0.5, 1, 1.5], "format": ".1f", "tickSize": -6, "labelPadding": 10, "titleAngle": 0, "titleAlign": "left", "titleBaseline": "alphabetic", "titleX": 362, "titleY": 5, "titleFontSize": 25}},
      "y": {"field": "p", "type": "quantitative", "title": "Pₑ", "scale": {"type": "log", "domain": [0.0001, 0.5], "nice": false},
            "axis": {"orient": "left", "values": [0.001, 0.01, 0.1], "labelExpr": "datum.value == 0.1 ? '10⁻¹' : datum.value == 0.01 ? '10⁻²' : '10⁻³'", "tickSize": -6, "labelPadding": 12, "titleAngle": 0, "titleAlign": "left", "titleBaseline": "alphabetic", "titleX": -13, "titleY": -13, "titleFontSize": 24}}}},
    {"data": {"name": "curves"}, "transform": [{"filter": "datum.panel=='c' && datum.s=='model'"}], "mark": {"type": "line", "color": "#1db51d", "strokeWidth": 2.4, "strokeDash": [2.5, 2.5], "interpolate": "monotone"},
     "encoding": {"x": {"field": "x", "type": "quantitative", "title": null, "axis": {"orient": "bottom", "values": [0.1, 0.2, 0.3, 0.4, 0.6, 0.7, 0.8, 0.9, 1.1, 1.2, 1.3, 1.4, 1.6, 1.7, 1.8], "labels": false, "domain": false, "tickSize": -3, "title": null}},
                  "y": {"field": "p", "type": "quantitative", "title": null, "axis": {"orient": "left", "values": [0.0002, 0.0003, 0.0004, 0.0005, 0.0006, 0.0007, 0.0008, 0.0009, 0.002, 0.003, 0.004, 0.005, 0.006, 0.007, 0.008, 0.009, 0.02, 0.03, 0.04, 0.05, 0.06, 0.07, 0.08, 0.09, 0.2, 0.3, 0.4], "labels": false, "domain": false, "tickSize": -3, "title": null}}}},
    {"data": {"name": "curves"}, "transform": [{"filter": "datum.panel=='c' && datum.s=='fit'"}], "mark": {"type": "line", "color": "#ff1a1a", "strokeWidth": 1.6, "interpolate": "monotone"},
     "encoding": {"x": {"field": "x", "type": "quantitative", "axis": null}, "y": {"field": "p", "type": "quantitative", "axis": null}}},
    {"data": {"name": "pts"}, "transform": [{"filter": "datum.panel=='c'"}], "mark": {"type": "errorbar", "color": "#222222", "ticks": {"size": 6}},
     "encoding": {"x": {"field": "x", "type": "quantitative", "axis": null}, "y": {"field": "lo", "type": "quantitative", "axis": null}, "y2": {"field": "hi"}}},
    {"data": {"name": "pts"}, "transform": [{"filter": "datum.panel=='c'"}], "mark": {"type": "point", "filled": true, "color": "#000000", "size": 16, "opacity": 1},
     "encoding": {"x": {"field": "x", "type": "quantitative", "axis": null}, "y": {"field": "p", "type": "quantitative", "axis": null}}},
    {"data": {"name": "notes"}, "transform": [{"filter": "datum.panel=='c'"}], "mark": {"type": "text", "align": "left", "baseline": "alphabetic", "fontSize": 30, "fontWeight": "bold", "color": "#000000"},
     "encoding": {"x": {"datum": 0.035, "type": "quantitative", "axis": null}, "y": {"datum": 0.145, "type": "quantitative", "axis": null}, "text": {"field": "tag"}}},
    {"data": {"name": "notes"}, "transform": [{"filter": "datum.panel=='c'"}], "mark": {"type": "text", "align": "right", "baseline": "alphabetic", "fontSize": 28, "fontWeight": "bold", "color": "#000000"},
     "encoding": {"x": {"datum": 1.829, "type": "quantitative", "axis": null}, "y": {"datum": 0.00129, "type": "quantitative", "axis": null}, "text": {"field": "noise"}}},
    {"data": {"name": "notes"}, "transform": [{"filter": "datum.panel=='c'"}], "mark": {"type": "text", "align": "right", "baseline": "alphabetic", "fontSize": 28, "fontWeight": "bold", "color": "#000000"},
     "encoding": {"x": {"datum": 1.829, "type": "quantitative", "axis": null}, "y": {"datum": 0.00046, "type": "quantitative", "axis": null}, "text": {"field": "exp"}}},
    {"data": {"name": "notes"}, "transform": [{"filter": "datum.panel=='c'"}], "mark": {"type": "text", "align": "right", "baseline": "alphabetic", "fontSize": 23.5, "color": "#222222"},
     "encoding": {"x": {"datum": 1.829, "type": "quantitative", "axis": null}, "y": {"datum": 0.000182, "type": "quantitative", "axis": null}, "text": {"field": "params"}}}
   ]},
  {"width": 358, "height": 292,
   "resolve": {"axis": {"x": "independent", "y": "independent"}},
   "layer": [
    {"data": {"name": "notes"}, "transform": [{"filter": "datum.panel=='d'"}], "mark": {"type": "rule", "color": "#cccccc", "strokeWidth": 1.2}, "encoding": {"y": {"datum": 0.5, "type": "quantitative", "axis": null}}},
    {"data": {"name": "curves"}, "transform": [{"filter": "datum.panel=='d' && datum.s=='ideal'"}], "mark": {"type": "line", "color": "#000000", "strokeWidth": 1.3, "strokeDash": [5, 3], "interpolate": "monotone"},
     "encoding": {
      "x": {"field": "x", "type": "quantitative", "title": "σ", "scale": {"domain": [-0.105, 3.18], "nice": false, "zero": false},
            "axis": {"orient": "bottom", "values": [0, 0.5, 1, 1.5, 2, 2.5, 3], "format": ".1f", "tickSize": -6, "labelPadding": 10, "titleAngle": 0, "titleAlign": "left", "titleBaseline": "alphabetic", "titleX": 368, "titleY": 5, "titleFontSize": 25}},
      "y": {"field": "p", "type": "quantitative", "title": "Pₑ", "scale": {"type": "log", "domain": [0.0001, 0.5], "nice": false},
            "axis": {"orient": "left", "values": [0.001, 0.01, 0.1], "labelExpr": "datum.value == 0.1 ? '10⁻¹' : datum.value == 0.01 ? '10⁻²' : '10⁻³'", "tickSize": -6, "labelPadding": 12, "titleAngle": 0, "titleAlign": "left", "titleBaseline": "alphabetic", "titleX": -13, "titleY": -13, "titleFontSize": 24}}}},
    {"data": {"name": "curves"}, "transform": [{"filter": "datum.panel=='d' && datum.s=='model'"}], "mark": {"type": "line", "color": "#1db51d", "strokeWidth": 2.4, "strokeDash": [2.5, 2.5], "interpolate": "monotone"},
     "encoding": {"x": {"field": "x", "type": "quantitative", "title": null, "axis": {"orient": "bottom", "values": [0.1, 0.2, 0.3, 0.4, 0.6, 0.7, 0.8, 0.9, 1.1, 1.2, 1.3, 1.4, 1.6, 1.7, 1.8, 1.9, 2.1, 2.2, 2.3, 2.4, 2.6, 2.7, 2.8, 2.9, 3.1], "labels": false, "domain": false, "tickSize": -3, "title": null}},
                  "y": {"field": "p", "type": "quantitative", "title": null, "axis": {"orient": "left", "values": [0.0002, 0.0003, 0.0004, 0.0005, 0.0006, 0.0007, 0.0008, 0.0009, 0.002, 0.003, 0.004, 0.005, 0.006, 0.007, 0.008, 0.009, 0.02, 0.03, 0.04, 0.05, 0.06, 0.07, 0.08, 0.09, 0.2, 0.3, 0.4], "labels": false, "domain": false, "tickSize": -3, "title": null}}}},
    {"data": {"name": "curves"}, "transform": [{"filter": "datum.panel=='d' && datum.s=='fit'"}], "mark": {"type": "line", "color": "#ff1a1a", "strokeWidth": 1.6, "interpolate": "monotone"},
     "encoding": {"x": {"field": "x", "type": "quantitative", "axis": null}, "y": {"field": "p", "type": "quantitative", "axis": null}}},
    {"data": {"name": "pts"}, "transform": [{"filter": "datum.panel=='d'"}], "mark": {"type": "errorbar", "color": "#222222", "ticks": {"size": 6}},
     "encoding": {"x": {"field": "x", "type": "quantitative", "axis": null}, "y": {"field": "lo", "type": "quantitative", "axis": null}, "y2": {"field": "hi"}}},
    {"data": {"name": "pts"}, "transform": [{"filter": "datum.panel=='d'"}], "mark": {"type": "point", "filled": true, "color": "#000000", "size": 16, "opacity": 1},
     "encoding": {"x": {"field": "x", "type": "quantitative", "axis": null}, "y": {"field": "p", "type": "quantitative", "axis": null}}},
    {"data": {"name": "notes"}, "transform": [{"filter": "datum.panel=='d'"}], "mark": {"type": "text", "align": "left", "baseline": "alphabetic", "fontSize": 30, "fontWeight": "bold", "color": "#000000"},
     "encoding": {"x": {"datum": 0.113, "type": "quantitative", "axis": null}, "y": {"datum": 0.145, "type": "quantitative", "axis": null}, "text": {"field": "tag"}}},
    {"data": {"name": "notes"}, "transform": [{"filter": "datum.panel=='d'"}], "mark": {"type": "text", "align": "right", "baseline": "alphabetic", "fontSize": 28, "fontWeight": "bold", "color": "#000000"},
     "encoding": {"x": {"datum": 3.134, "type": "quantitative", "axis": null}, "y": {"datum": 0.00129, "type": "quantitative", "axis": null}, "text": {"field": "noise"}}},
    {"data": {"name": "notes"}, "transform": [{"filter": "datum.panel=='d'"}], "mark": {"type": "text", "align": "right", "baseline": "alphabetic", "fontSize": 28, "fontWeight": "bold", "color": "#000000"},
     "encoding": {"x": {"datum": 3.134, "type": "quantitative", "axis": null}, "y": {"datum": 0.00046, "type": "quantitative", "axis": null}, "text": {"field": "exp"}}},
    {"data": {"name": "notes"}, "transform": [{"filter": "datum.panel=='d'"}], "mark": {"type": "text", "align": "right", "baseline": "alphabetic", "fontSize": 23.5, "color": "#222222"},
     "encoding": {"x": {"datum": 3.134, "type": "quantitative", "axis": null}, "y": {"datum": 0.000182, "type": "quantitative", "axis": null}, "text": {"field": "params"}}}
   ]}
]
}
